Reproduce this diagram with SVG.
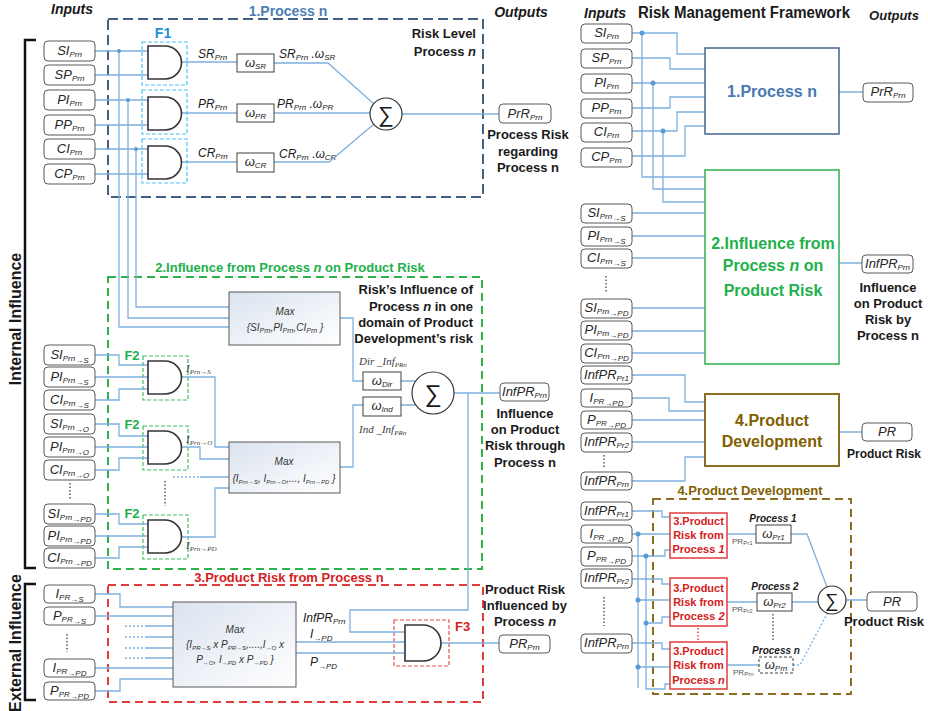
<svg xmlns="http://www.w3.org/2000/svg" width="928" height="711" viewBox="0 0 928 711">
<defs>
<style>
text{font-family:"Liberation Sans",Arial,sans-serif;fill:#1a1a1a}
.ln{fill:none;stroke:#7eb0e0;stroke-width:1.3}
.dl{fill:none;stroke:#7eb0e0;stroke-width:1.3;stroke-dasharray:2 2}
.ib{fill:#fff;stroke:#595959;stroke-width:1}
.wb{fill:#fff;stroke:#404040;stroke-width:1}
.gt{fill:#fff;stroke:#333;stroke-width:1.6}
.mx{fill:url(#gr);stroke:#595959;stroke-width:1}
.lb{font-size:13px;font-style:italic;text-anchor:middle;fill:#262626}
.sb{font-size:8px}
.hd{font-size:14px;font-weight:bold;font-style:italic;text-anchor:middle}
.bt{font-size:13px;font-weight:bold;text-anchor:middle}
.dot{fill:#5b9bd5}
.sr{font-family:"Liberation Serif","Times New Roman",serif;font-style:italic;font-size:11px;fill:#404040}
.mt{font-size:10px;font-style:italic;text-anchor:middle;fill:#333}
.vd{fill:none;stroke:#333;stroke-width:1.2;stroke-dasharray:1.5 2}
</style>
<linearGradient id="gr" x1="0" y1="0" x2="1" y2="1"><stop offset="0" stop-color="#dbe3ef"/><stop offset="1" stop-color="#ffffff"/></linearGradient>
<path id="g33" d="M0,0H17A16.5,16.5 0 0 1 17,33H0Z"/>
<path id="g36" d="M0,0H18A18,18 0 0 1 18,36H0Z"/>
</defs>
<rect width="928" height="711" fill="#fff"/>

<!-- section frames -->
<g id="frames">
<rect x="108" y="19" width="375" height="178" fill="none" stroke="#44607f" stroke-width="2" stroke-dasharray="10 5"/>
<rect x="108" y="277" width="374" height="292" fill="none" stroke="#2db34a" stroke-width="2" stroke-dasharray="8 5"/>
<rect x="108" y="585" width="375" height="117" fill="none" stroke="#e03c3c" stroke-width="2" stroke-dasharray="8 5"/>
<rect x="653" y="499" width="198" height="195" fill="none" stroke="#8c6d1f" stroke-width="2" stroke-dasharray="8 5"/>
<rect x="142" y="42" width="45" height="43" fill="none" stroke="#4fc3f7" stroke-width="1.2" stroke-dasharray="4 2"/>
<rect x="142" y="90" width="45" height="44" fill="none" stroke="#4fc3f7" stroke-width="1.2" stroke-dasharray="4 2"/>
<rect x="142" y="139" width="45" height="44" fill="none" stroke="#4fc3f7" stroke-width="1.2" stroke-dasharray="4 2"/>
<rect x="143" y="356" width="45" height="44" fill="none" stroke="#3cc060" stroke-width="1.2" stroke-dasharray="4 2"/>
<rect x="143" y="426" width="45" height="44" fill="none" stroke="#3cc060" stroke-width="1.2" stroke-dasharray="4 2"/>
<rect x="143" y="515" width="45" height="44" fill="none" stroke="#3cc060" stroke-width="1.2" stroke-dasharray="4 2"/>
<rect x="394" y="620" width="55" height="46" fill="none" stroke="#e05050" stroke-width="1.2" stroke-dasharray="4 2"/>
<path d="M36,40H25V568H36" fill="none" stroke="#111" stroke-width="2.5"/>
<path d="M36,584H25V700H36" fill="none" stroke="#111" stroke-width="2.5"/>
</g>

<!-- titles and notes -->
<g id="labels">
<text class="hd" x="72" y="14">Inputs</text>
<text class="hd" x="521" y="17">Outputs</text>
<text x="288" y="16" font-size="14" font-weight="bold" text-anchor="middle" style="fill:#4f7eb5">1.Process n</text>
<text x="163" y="38" font-size="14" font-weight="bold" text-anchor="middle" style="fill:#1e8fd6">F1</text>
<text x="476" y="38" font-size="13" font-weight="bold" text-anchor="end">Risk Level</text>
<text x="476" y="56" font-size="13" font-weight="bold" text-anchor="end">Process <tspan font-style="italic">n</tspan></text>
<text class="bt" x="528" y="139">Process Risk</text>
<text class="bt" x="528" y="156">regarding</text>
<text class="bt" x="528" y="172">Process n</text>
<text x="290" y="272" font-size="13" font-weight="bold" text-anchor="middle" style="fill:#22b04b">2.Influence from Process <tspan font-style="italic">n</tspan> on Product Risk</text>
<text x="473" y="294" font-size="13" font-weight="bold" text-anchor="end">Risk’s Influence of</text>
<text x="473" y="311" font-size="13" font-weight="bold" text-anchor="end">Process <tspan font-style="italic">n</tspan> in one</text>
<text x="473" y="327" font-size="13" font-weight="bold" text-anchor="end">domain of Product</text>
<text x="473" y="343" font-size="13" font-weight="bold" text-anchor="end">Development’s risk</text>
<text class="bt" x="525" y="418">Influence</text>
<text class="bt" x="525" y="434">on Product</text>
<text class="bt" x="525" y="450">Risk through</text>
<text class="bt" x="525" y="467">Process n</text>
<text x="132" y="360" font-size="13" font-weight="bold" text-anchor="middle" style="fill:#22b04b">F2</text>
<text x="132" y="429" font-size="13" font-weight="bold" text-anchor="middle" style="fill:#22b04b">F2</text>
<text x="132" y="518" font-size="13" font-weight="bold" text-anchor="middle" style="fill:#22b04b">F2</text>
<text x="289" y="582" font-size="13" font-weight="bold" text-anchor="middle" style="fill:#d42020">3.Product Risk from Process n</text>
<text x="455" y="631" font-size="13" font-weight="bold" style="fill:#d42020">F3</text>
<text class="bt" x="525" y="594">Product Risk</text>
<text class="bt" x="525" y="610">Influenced by</text>
<text class="bt" x="525" y="626">Process <tspan font-style="italic">n</tspan></text>
<text transform="translate(21,319) rotate(-90)" font-size="16" font-weight="bold" text-anchor="middle">Internal Influence</text>
<text transform="translate(21,643) rotate(-90)" font-size="16" font-weight="bold" text-anchor="middle">External Influence</text>
<text x="198" y="58" font-size="12" font-style="italic">SR<tspan class="sb" dy="2">Prn</tspan></text>
<text x="198" y="108" font-size="12" font-style="italic">PR<tspan class="sb" dy="2">Prn</tspan></text>
<text x="198" y="157" font-size="12" font-style="italic">CR<tspan class="sb" dy="2">Prn</tspan></text>
<text x="279" y="58" font-size="12" font-style="italic">SR<tspan class="sb" dy="2">Prn</tspan><tspan dy="-2"> .ω</tspan><tspan class="sb" dy="2">SR</tspan></text>
<text x="277" y="108" font-size="12" font-style="italic">PR<tspan class="sb" dy="2">Prn</tspan><tspan dy="-2"> .ω</tspan><tspan class="sb" dy="2">PR</tspan></text>
<text x="279" y="158" font-size="12" font-style="italic">CR<tspan class="sb" dy="2">Prn</tspan><tspan dy="-2"> .ω</tspan><tspan class="sb" dy="2">CR</tspan></text>
<text class="sr" x="359" y="365">Dir _Inf<tspan font-size="7" dy="2">PRn</tspan></text>
<text class="sr" x="359" y="433">Ind _Inf<tspan font-size="7" dy="2">PRn</tspan></text>
<text class="sr" x="186" y="372" font-size="12">I<tspan font-size="7" dy="2">Prn→S</tspan></text>
<text class="sr" x="186" y="443" font-size="12">I<tspan font-size="7" dy="2">Prn→O</tspan></text>
<text class="sr" x="186" y="549" font-size="12">I<tspan font-size="7" dy="2">Prn→PD</tspan></text>
<text x="303" y="622" font-size="12" font-style="italic">InfPR<tspan class="sb" dy="2">Prn</tspan></text>
<text x="310" y="638" font-size="12" font-style="italic">I<tspan class="sb" dy="3">→PD</tspan></text>
<text x="310" y="666" font-size="12" font-style="italic">P<tspan class="sb" dy="3">→PD</tspan></text>
<text class="hd" x="605" y="18">Inputs</text>
<text x="744" y="18" font-size="16" font-weight="bold" text-anchor="middle" textLength="212" lengthAdjust="spacingAndGlyphs">Risk Management Framework</text>
<text class="hd" x="894" y="20" font-size="13" style="font-size:13px">Outputs</text>
<text class="bt" x="888" y="292">Influence</text>
<text class="bt" x="888" y="308">on Product</text>
<text class="bt" x="888" y="324">Risk by</text>
<text class="bt" x="888" y="340">Process n</text>
<text x="884" y="458" font-size="12" font-weight="bold" text-anchor="middle">Product Risk</text>
<text x="750" y="495" font-size="13" font-weight="bold" text-anchor="middle" style="fill:#7f6000">4.Product Development</text>
<text x="773" y="522" font-size="10" font-weight="bold" font-style="italic" text-anchor="middle">Process 1</text>
<text x="775" y="590" font-size="10" font-weight="bold" font-style="italic" text-anchor="middle">Process 2</text>
<text x="776" y="654" font-size="10" font-weight="bold" font-style="italic" text-anchor="middle">Process n</text>
<text x="732" y="544" font-size="8" style="fill:#555">PR<tspan font-size="6" dy="1">Pr1</tspan></text>
<text x="732" y="612" font-size="8" style="fill:#555">PR<tspan font-size="6" dy="1">Pr2</tspan></text>
<text x="733" y="675" font-size="8" style="fill:#555">PR<tspan font-size="6" dy="1">Prn</tspan></text>
<text x="884" y="626" font-size="13" font-weight="bold" text-anchor="middle">Product Risk</text>
<path class="vd" d="M70,483V500M67,634V652M165,481V506M606,276V292M604,455V468M604,597V626M773,614V642"/>
<path d="M698,628V641" fill="none" stroke="#e03c3c" stroke-width="1.5" stroke-dasharray="1.5 2"/>
</g>

<!-- connectors -->
<g id="connectors">
<path class="ln" d="M95,51H148M95,75H148M95,100H148M95,125H148M95,149H148M95,174H148"/>
<path class="ln" d="M119,51V327H229M128,100V318H229M136,149V307H229"/>
<path class="ln" d="M182,62H237M182,113H237M182,162H237"/>
<path class="ln" d="M274,63H328L374,104M274,113H370M274,162H329L374,124M402,114H499"/>
<path class="ln" d="M340,318H353V381H363M340,467H353V405H363M401,381H415M401,405H415M454,393H500M468,393V610H350V632H405"/>
<path class="ln" d="M95,355H119V365H148M95,377H148M95,400H119V389H148M95,424H119V436H148M95,447H148M95,470H119V458H148M95,514H119V524H148M95,536H148M95,558H119V547H148"/>
<path class="ln" d="M182,377H215V447H229M182,447H200V459H229M182,537H215V488H229M200,477H229"/>
<path class="dl" d="M173,477H200"/>
<path class="ln" d="M95,594H120V607H173M95,616H173M95,668H173M95,691H120V679H173M147,626H173M147,637H173M147,648H173M147,658H173"/>
<path class="dl" d="M125,626H147M125,637H147M125,648H147M125,658H147"/>
<path class="ln" d="M296,642H405M296,653H405M441,643H499"/>
<path class="ln" d="M632,33H677V54H705M632,58H670V69H705M632,83H705M632,108H670V97H705M632,131H677V112H705M632,156H685V126H705"/>
<path class="ln" d="M642,33V177H705M653,83V189H705M663,131V202H705M839,92H863"/>
<path class="ln" d="M632,213H705M632,236H705M632,258H705M632,308H705M632,331H705M632,353H705M839,263H862"/>
<path class="ln" d="M632,375H685V402H705M632,398H669V411H705M632,420H705M632,442H705M632,481H685V457H705M839,432H862"/>
<path class="ln" d="M632,511H662V517H670M632,534H670M632,556H665V550H670M638,534V688M646,556V689H665V684H670"/>
<path class="ln" d="M632,579H662V584H670M638,600H670M646,623H662V617H670M632,643H662V649H670M638,667H670"/>
<path class="ln" d="M727,534H756M727,602H757M727,665H759M791,534H807L827,587M792,602H818M846,600H867"/>
<path class="dl" d="M793,665H800L828,612"/>
<circle class="dot" cx="119" cy="51" r="2"/><circle class="dot" cx="128" cy="100" r="2"/><circle class="dot" cx="136" cy="149" r="2"/>
<circle class="dot" cx="642" cy="33" r="2.5"/><circle class="dot" cx="653" cy="83" r="2.5"/><circle class="dot" cx="663" cy="131" r="2.5"/>
<circle class="dot" cx="638" cy="534" r="2.5"/><circle class="dot" cx="646" cy="556" r="2.5"/><circle class="dot" cx="638" cy="600" r="2.5"/><circle class="dot" cx="646" cy="623" r="2.5"/><circle class="dot" cx="638" cy="667" r="2.5"/>
</g>

<!-- left input nodes -->
<g id="n-si-prn"><rect class="ib" x="44" y="41" width="51" height="20" rx="4"/><text class="lb" x="69.5" y="55">SI<tspan class="sb" dy="2">Prn</tspan></text></g>
<g id="n-sp-prn"><rect class="ib" x="44" y="65" width="51" height="20" rx="4"/><text class="lb" x="69.5" y="79">SP<tspan class="sb" dy="2">Prn</tspan></text></g>
<g id="n-pi-prn"><rect class="ib" x="44" y="90" width="51" height="20" rx="4"/><text class="lb" x="69.5" y="104">PI<tspan class="sb" dy="2">Prn</tspan></text></g>
<g id="n-pp-prn"><rect class="ib" x="44" y="115" width="51" height="20" rx="4"/><text class="lb" x="69.5" y="129">PP<tspan class="sb" dy="2">Prn</tspan></text></g>
<g id="n-ci-prn"><rect class="ib" x="44" y="139" width="51" height="20" rx="4"/><text class="lb" x="69.5" y="153">CI<tspan class="sb" dy="2">Prn</tspan></text></g>
<g id="n-cp-prn"><rect class="ib" x="44" y="164" width="51" height="20" rx="4"/><text class="lb" x="69.5" y="178">CP<tspan class="sb" dy="2">Prn</tspan></text></g>

<g id="n-si-s"><rect class="ib" x="44" y="345" width="51" height="20" rx="4"/><text class="lb" x="69.5" y="359">SI<tspan class="sb" dy="2">Prn</tspan><tspan class="sb" dy="2">→S</tspan></text></g>
<g id="n-pi-s"><rect class="ib" x="44" y="367" width="51" height="20" rx="4"/><text class="lb" x="69.5" y="381">PI<tspan class="sb" dy="2">Prn</tspan><tspan class="sb" dy="2">→S</tspan></text></g>
<g id="n-ci-s"><rect class="ib" x="44" y="390" width="51" height="20" rx="4"/><text class="lb" x="69.5" y="404">CI<tspan class="sb" dy="2">Prn</tspan><tspan class="sb" dy="2">→S</tspan></text></g>
<g id="n-si-o"><rect class="ib" x="44" y="414" width="51" height="20" rx="4"/><text class="lb" x="69.5" y="428">SI<tspan class="sb" dy="2">Prn</tspan><tspan class="sb" dy="2">→O</tspan></text></g>
<g id="n-pi-o"><rect class="ib" x="44" y="437" width="51" height="20" rx="4"/><text class="lb" x="69.5" y="451">PI<tspan class="sb" dy="2">Prn</tspan><tspan class="sb" dy="2">→O</tspan></text></g>
<g id="n-ci-o"><rect class="ib" x="44" y="460" width="51" height="20" rx="4"/><text class="lb" x="69.5" y="474">CI<tspan class="sb" dy="2">Prn</tspan><tspan class="sb" dy="2">→O</tspan></text></g>
<g id="n-si-pd"><rect class="ib" x="44" y="504" width="51" height="20" rx="4"/><text class="lb" x="69.5" y="518">SI<tspan class="sb" dy="2">Prn</tspan><tspan class="sb" dy="2">→PD</tspan></text></g>
<g id="n-pi-pd"><rect class="ib" x="44" y="526" width="51" height="20" rx="4"/><text class="lb" x="69.5" y="540">PI<tspan class="sb" dy="2">Prn</tspan><tspan class="sb" dy="2">→PD</tspan></text></g>
<g id="n-ci-pd"><rect class="ib" x="44" y="548" width="51" height="20" rx="4"/><text class="lb" x="69.5" y="562">CI<tspan class="sb" dy="2">Prn</tspan><tspan class="sb" dy="2">→PD</tspan></text></g>

<g id="n-ipr-s"><rect class="ib" x="44" y="585" width="51" height="18" rx="4"/><text class="lb" x="69.5" y="598">I<tspan class="sb" dy="2">PR</tspan><tspan class="sb" dy="2">→S</tspan></text></g>
<g id="n-ppr-s"><rect class="ib" x="44" y="607" width="51" height="18" rx="4"/><text class="lb" x="69.5" y="620">P<tspan class="sb" dy="2">PR</tspan><tspan class="sb" dy="2">→S</tspan></text></g>
<g id="n-ipr-pd"><rect class="ib" x="44" y="659" width="51" height="18" rx="4"/><text class="lb" x="69.5" y="672">I<tspan class="sb" dy="2">PR</tspan><tspan class="sb" dy="2">→PD</tspan></text></g>
<g id="n-ppr-pd"><rect class="ib" x="44" y="682" width="51" height="18" rx="4"/><text class="lb" x="69.5" y="695">P<tspan class="sb" dy="2">PR</tspan><tspan class="sb" dy="2">→PD</tspan></text></g>

<!-- gates -->
<g id="gate-f1"><use href="#g33" class="gt" x="148" y="46"/><use href="#g33" class="gt" x="148" y="97"/><use href="#g33" class="gt" x="148" y="146"/></g>
<g id="gate-f2"><use href="#g33" class="gt" x="148" y="361"/><use href="#g33" class="gt" x="148" y="431"/><use href="#g33" class="gt" x="148" y="520"/></g>
<g id="gate-f3"><use href="#g36" class="gt" x="405" y="625"/></g>

<!-- weights and sums -->
<g id="w-sr"><rect class="wb" x="237" y="54" width="37" height="18"/><text class="lb" x="255.5" y="67">ω<tspan class="sb" dy="2">SR</tspan></text></g>
<g id="w-pr"><rect class="wb" x="237" y="104" width="37" height="18"/><text class="lb" x="255.5" y="117">ω<tspan class="sb" dy="2">PR</tspan></text></g>
<g id="w-cr"><rect class="wb" x="237" y="153" width="37" height="19"/><text class="lb" x="255.5" y="166">ω<tspan class="sb" dy="2">CR</tspan></text></g>
<g id="sum1"><circle cx="386" cy="114" r="16" fill="#fff" stroke="#333" stroke-width="1.2"/><text x="386" y="122" font-size="22" text-anchor="middle" font-family="Liberation Serif, serif">∑</text></g>
<g id="out-prr"><rect class="ib" x="499" y="104" width="52" height="19" rx="4"/><text class="lb" x="525" y="118">PrR<tspan class="sb" dy="2">Prn</tspan></text></g>

<g id="max1"><rect class="mx" x="229" y="292" width="111" height="53"/><text class="mt" x="285" y="315" font-size="11">Max</text><text class="mt" x="285" y="331">{SI<tspan font-size="7" dy="2">Prn</tspan><tspan dy="-2">,PI</tspan><tspan font-size="7" dy="2">Prn</tspan><tspan dy="-2">,CI</tspan><tspan font-size="7" dy="2">Prn</tspan><tspan dy="-2"> }</tspan></text></g>
<g id="w-dir"><rect class="wb" x="363" y="372" width="38" height="18"/><text class="lb" x="382" y="385">ω<tspan class="sb" dy="2">Dir</tspan></text></g>
<g id="w-ind"><rect class="wb" x="363" y="397" width="38" height="19"/><text class="lb" x="382" y="410">ω<tspan class="sb" dy="2">Ind</tspan></text></g>
<g id="sum2"><circle cx="433" cy="393" r="21" fill="#fff" stroke="#333" stroke-width="1.2"/><text x="433" y="402" font-size="24" text-anchor="middle" font-family="Liberation Serif, serif">∑</text></g>
<g id="out-infpr"><rect class="ib" x="500" y="383" width="49" height="18" rx="4"/><text class="lb" x="524.5" y="396">InfPR<tspan class="sb" dy="2">Prn</tspan></text></g>
<g id="max2"><rect class="mx" x="229" y="442" width="111" height="51"/><text class="mt" x="284" y="465" font-size="11">Max</text><text class="mt" x="284" y="482" font-size="9">{I<tspan font-size="6" dy="2">Prn→S</tspan><tspan dy="-2">, I</tspan><tspan font-size="6" dy="2">Prn→O</tspan><tspan dy="-2">,..., I</tspan><tspan font-size="6" dy="2">Prn→PD</tspan><tspan dy="-2"> }</tspan></text></g>

<g id="max3"><rect class="mx" x="173" y="602" width="123" height="85"/><text class="mt" x="235" y="633">Max</text><text class="mt" x="235" y="648" font-size="9">{I<tspan font-size="6" dy="2">PR→S</tspan><tspan dy="-2"> x P</tspan><tspan font-size="6" dy="2">PR→S</tspan><tspan dy="-2">,....,I</tspan><tspan font-size="6" dy="2">→O</tspan><tspan dy="-2"> x</tspan></text><text class="mt" x="235" y="663" font-size="9">P<tspan font-size="6" dy="2">→O</tspan><tspan dy="-2">, I</tspan><tspan font-size="6" dy="2">→PD</tspan><tspan dy="-2"> x P</tspan><tspan font-size="6" dy="2">→PD</tspan><tspan dy="-2"> }</tspan></text></g>
<g id="out-prprn"><rect class="ib" x="499" y="635" width="51" height="18" rx="4"/><text class="lb" x="524.5" y="648">PR<tspan class="sb" dy="2">Prn</tspan></text></g>

<!-- right panel nodes -->
<g id="r-si-prn"><rect class="ib" x="581" y="24" width="51" height="19" rx="4"/><text class="lb" x="606.5" y="37">SI<tspan class="sb" dy="2">Prn</tspan></text></g>
<g id="r-sp-prn"><rect class="ib" x="581" y="49" width="51" height="19" rx="4"/><text class="lb" x="606.5" y="62">SP<tspan class="sb" dy="2">Prn</tspan></text></g>
<g id="r-pi-prn"><rect class="ib" x="581" y="74" width="51" height="19" rx="4"/><text class="lb" x="606.5" y="87">PI<tspan class="sb" dy="2">Prn</tspan></text></g>
<g id="r-pp-prn"><rect class="ib" x="581" y="99" width="51" height="19" rx="4"/><text class="lb" x="606.5" y="112">PP<tspan class="sb" dy="2">Prn</tspan></text></g>
<g id="r-ci-prn"><rect class="ib" x="581" y="123" width="51" height="19" rx="4"/><text class="lb" x="606.5" y="136">CI<tspan class="sb" dy="2">Prn</tspan></text></g>
<g id="r-cp-prn"><rect class="ib" x="581" y="148" width="51" height="19" rx="4"/><text class="lb" x="606.5" y="161">CP<tspan class="sb" dy="2">Prn</tspan></text></g>
<g id="r-process"><rect x="705" y="48" width="134" height="86" fill="#fff" stroke="#41668f" stroke-width="1.5"/><text x="772" y="97" font-size="16" font-weight="bold" text-anchor="middle" style="fill:#4a78b0">1.Process n</text></g>
<g id="r-out-prr"><rect class="ib" x="863" y="83" width="50" height="19" rx="4"/><text class="lb" x="888" y="96">PrR<tspan class="sb" dy="2">Prn</tspan></text></g>

<g id="r-si-s"><rect class="ib" x="581" y="204" width="51" height="19" rx="4"/><text class="lb" x="606.5" y="217">SI<tspan class="sb" dy="2">Prn</tspan><tspan class="sb" dy="2">→S</tspan></text></g>
<g id="r-pi-s"><rect class="ib" x="581" y="227" width="51" height="19" rx="4"/><text class="lb" x="606.5" y="240">PI<tspan class="sb" dy="2">Prn</tspan><tspan class="sb" dy="2">→S</tspan></text></g>
<g id="r-ci-s"><rect class="ib" x="581" y="249" width="51" height="19" rx="4"/><text class="lb" x="606.5" y="262">CI<tspan class="sb" dy="2">Prn</tspan><tspan class="sb" dy="2">→S</tspan></text></g>
<g id="r-si-pd"><rect class="ib" x="581" y="299" width="51" height="19" rx="4"/><text class="lb" x="606.5" y="312">SI<tspan class="sb" dy="2">Prn</tspan><tspan class="sb" dy="2">→PD</tspan></text></g>
<g id="r-pi-pd"><rect class="ib" x="581" y="321" width="51" height="19" rx="4"/><text class="lb" x="606.5" y="334">PI<tspan class="sb" dy="2">Prn</tspan><tspan class="sb" dy="2">→PD</tspan></text></g>
<g id="r-ci-pd"><rect class="ib" x="581" y="344" width="51" height="19" rx="4"/><text class="lb" x="606.5" y="357">CI<tspan class="sb" dy="2">Prn</tspan><tspan class="sb" dy="2">→PD</tspan></text></g>
<g id="r-influence"><rect x="705" y="170" width="134" height="194" fill="#fff" stroke="#2db34a" stroke-width="1.5"/><text x="773" y="249" font-size="16" font-weight="bold" text-anchor="middle" style="fill:#22b04b">2.Influence from</text><text x="773" y="271" font-size="16" font-weight="bold" text-anchor="middle" style="fill:#22b04b">Process <tspan font-style="italic">n</tspan> on</text><text x="773" y="296" font-size="16" font-weight="bold" text-anchor="middle" style="fill:#22b04b">Product Risk</text></g>
<g id="r-out-infpr"><rect class="ib" x="862" y="255" width="51" height="18" rx="4"/><text class="lb" x="887.5" y="268">InfPR<tspan class="sb" dy="2">Prn</tspan></text></g>

<g id="r-infpr1"><rect class="ib" x="581" y="366" width="51" height="18" rx="4"/><text class="lb" x="606.5" y="379">InfPR<tspan class="sb" dy="2">Pr1</tspan></text></g>
<g id="r-ipr-pd"><rect class="ib" x="581" y="389" width="51" height="18" rx="4"/><text class="lb" x="606.5" y="402">I<tspan class="sb" dy="2">PR</tspan><tspan class="sb" dy="2">→PD</tspan></text></g>
<g id="r-ppr-pd"><rect class="ib" x="581" y="411" width="51" height="18" rx="4"/><text class="lb" x="606.5" y="424">P<tspan class="sb" dy="2">PR</tspan><tspan class="sb" dy="2">→PD</tspan></text></g>
<g id="r-infpr2"><rect class="ib" x="581" y="433" width="51" height="19" rx="4"/><text class="lb" x="606.5" y="446">InfPR<tspan class="sb" dy="2">Pr2</tspan></text></g>
<g id="r-infprn"><rect class="ib" x="581" y="472" width="51" height="18" rx="4"/><text class="lb" x="606.5" y="485">InfPR<tspan class="sb" dy="2">Prn</tspan></text></g>
<g id="r-proddev"><rect x="705" y="394" width="134" height="72" fill="#fff" stroke="#8c6d1f" stroke-width="2"/><text x="772" y="426" font-size="16" font-weight="bold" text-anchor="middle" style="fill:#7f6000">4.Product</text><text x="772" y="447" font-size="16" font-weight="bold" text-anchor="middle" style="fill:#7f6000">Development</text></g>
<g id="r-out-pr"><rect class="ib" x="862" y="423" width="50" height="18" rx="4"/><text class="lb" x="887" y="436">PR</text></g>

<g id="b-infpr1"><rect class="ib" x="581" y="502" width="51" height="18" rx="4"/><text class="lb" x="606.5" y="515">InfPR<tspan class="sb" dy="2">Pr1</tspan></text></g>
<g id="b-ipr-pd"><rect class="ib" x="581" y="525" width="51" height="18" rx="4"/><text class="lb" x="606.5" y="538">I<tspan class="sb" dy="2">PR</tspan><tspan class="sb" dy="2">→PD</tspan></text></g>
<g id="b-ppr-pd"><rect class="ib" x="581" y="547" width="51" height="19" rx="4"/><text class="lb" x="606.5" y="560">P<tspan class="sb" dy="2">PR</tspan><tspan class="sb" dy="2">→PD</tspan></text></g>
<g id="b-infpr2"><rect class="ib" x="581" y="569" width="51" height="19" rx="4"/><text class="lb" x="606.5" y="582">InfPR<tspan class="sb" dy="2">Pr2</tspan></text></g>
<g id="b-infprn"><rect class="ib" x="581" y="634" width="51" height="19" rx="4"/><text class="lb" x="606.5" y="647">InfPR<tspan class="sb" dy="2">Prn</tspan></text></g>

<g id="pr-1"><rect x="670" y="513" width="57" height="45" fill="#fff" stroke="#e03c3c" stroke-width="1.5"/><text x="698.5" y="525" font-size="11" font-weight="bold" text-anchor="middle" style="fill:#d42020">3.Product</text><text x="698.5" y="539" font-size="11" font-weight="bold" text-anchor="middle" style="fill:#d42020">Risk from</text><text x="698.5" y="553" font-size="11" font-weight="bold" text-anchor="middle" style="fill:#d42020">Process <tspan font-style="italic">1</tspan></text></g>
<g id="pr-2"><rect x="670" y="578" width="57" height="48" fill="#fff" stroke="#e03c3c" stroke-width="1.5"/><text x="698.5" y="592" font-size="11" font-weight="bold" text-anchor="middle" style="fill:#d42020">3.Product</text><text x="698.5" y="606" font-size="11" font-weight="bold" text-anchor="middle" style="fill:#d42020">Risk from</text><text x="698.5" y="620" font-size="11" font-weight="bold" text-anchor="middle" style="fill:#d42020">Process <tspan font-style="italic">2</tspan></text></g>
<g id="pr-n"><rect x="670" y="642" width="57" height="47" fill="#fff" stroke="#e03c3c" stroke-width="1.5"/><text x="698.5" y="655" font-size="11" font-weight="bold" text-anchor="middle" style="fill:#d42020">3.Product</text><text x="698.5" y="669" font-size="11" font-weight="bold" text-anchor="middle" style="fill:#d42020">Risk from</text><text x="698.5" y="684" font-size="11" font-weight="bold" text-anchor="middle" style="fill:#d42020">Process <tspan font-style="italic">n</tspan></text></g>
<g id="w-pr1"><rect class="wb" x="756" y="525" width="35" height="18"/><text class="lb" x="773.5" y="538">ω<tspan class="sb" dy="2">Pr1</tspan></text></g>
<g id="w-pr2"><rect class="wb" x="757" y="593" width="35" height="18"/><text class="lb" x="774.5" y="606">ω<tspan class="sb" dy="2">Pr2</tspan></text></g>
<g id="w-prn"><rect x="759" y="657" width="34" height="16" fill="#fff" stroke="#404040" stroke-width="1" stroke-dasharray="3 2"/><text class="lb" x="776" y="669">ω<tspan class="sb" dy="2">Prn</tspan></text></g>
<g id="sum3"><circle cx="832" cy="600" r="14" fill="#fff" stroke="#333" stroke-width="1.2"/><text x="832" y="607" font-size="19" text-anchor="middle" font-family="Liberation Serif, serif">∑</text></g>
<g id="b-out-pr"><rect class="ib" x="867" y="592" width="50" height="19" rx="4"/><text class="lb" x="892" y="606">PR</text></g>
</svg>
